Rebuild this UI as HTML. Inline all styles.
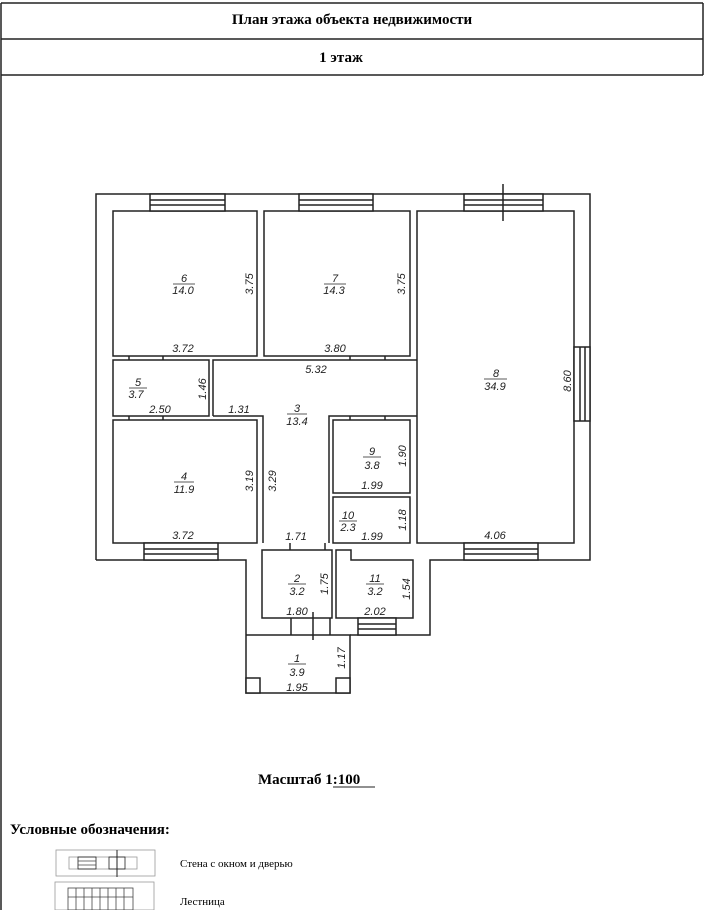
<!DOCTYPE html>
<html><head><meta charset="utf-8"><style>
html,body{margin:0;padding:0;background:#fff}
svg{display:block}
.h{font-family:"Liberation Serif","DejaVu Serif",serif;font-weight:bold;font-size:15px}
.t{font-family:"Liberation Serif",serif;font-size:11px}
.l{font-family:"Liberation Sans",sans-serif;font-style:italic;font-size:11px;fill:#222}
</style></head><body>
<svg width="704" height="910" viewBox="0 0 704 910" xmlns="http://www.w3.org/2000/svg">
<g stroke="#222" fill="none" stroke-width="1.5">
<line x1="1" y1="3" x2="703" y2="3"/>
<line x1="1" y1="39" x2="703" y2="39"/>
<line x1="1" y1="75" x2="703" y2="75"/>
<line x1="1" y1="3" x2="1" y2="910"/>
<line x1="703" y1="3" x2="703" y2="75"/>
</g>
<text x="352" y="24" text-anchor="middle" class="h">План этажа объекта недвижимости</text>
<text x="341" y="62" text-anchor="middle" class="h">1 этаж</text>

<g stroke="#222" fill="#fff" stroke-width="1.5">
<polyline fill="none" points="96,560 96,194 590,194 590,560 430,560 430,635 350,635"/>
<polyline fill="none" points="96,560 246,560 246,693 350,693 350,635 246,635"/>
<rect x="113" y="211" width="144" height="145"/>
<rect x="264" y="211" width="146" height="145"/>
<rect x="417" y="211" width="157" height="332"/>
<rect x="113" y="360" width="96" height="56"/>
<rect x="113" y="420" width="144" height="123"/>
<polyline fill="none" points="213,416 213,360 417,360"/>
<polyline fill="none" points="213,416 263,416 263,543"/>
<polyline fill="none" points="329,543 329,416 417,416"/>
<rect x="333" y="420" width="77" height="73"/>
<rect x="333" y="497" width="77" height="46"/>
<rect x="262" y="550" width="70" height="68"/>
<polygon points="336,550 351,550 351,560 413,560 413,618 336,618"/>
<rect x="246" y="678" width="14" height="15"/>
<rect x="336" y="678" width="14" height="15"/>
<rect x="150" y="194" width="75" height="17"/><line x1="150" y1="200" x2="225" y2="200"/><line x1="150" y1="205" x2="225" y2="205"/>
<rect x="299" y="194" width="74" height="17"/><line x1="299" y1="200" x2="373" y2="200"/><line x1="299" y1="205" x2="373" y2="205"/>
<rect x="464" y="194" width="79" height="17"/><line x1="464" y1="200" x2="543" y2="200"/><line x1="464" y1="205" x2="543" y2="205"/>
<line x1="503" y1="184" x2="503" y2="221"/>
<rect x="574" y="347" width="16" height="74"/><line x1="580" y1="347" x2="580" y2="421"/><line x1="585" y1="347" x2="585" y2="421"/>
<rect x="144" y="543" width="74" height="17"/><line x1="144" y1="549" x2="218" y2="549"/><line x1="144" y1="554" x2="218" y2="554"/>
<rect x="464" y="543" width="74" height="17"/><line x1="464" y1="549" x2="538" y2="549"/><line x1="464" y1="554" x2="538" y2="554"/>
<rect x="358" y="618" width="38" height="17"/><line x1="358" y1="624" x2="396" y2="624"/><line x1="358" y1="629" x2="396" y2="629"/>
<line x1="313" y1="612" x2="313" y2="640"/>
<line x1="291" y1="618" x2="291" y2="635"/>
<line x1="330" y1="618" x2="330" y2="635"/>
<line x1="290" y1="543" x2="290" y2="550"/>
<line x1="325" y1="543" x2="325" y2="550"/>
<line x1="129" y1="356" x2="129" y2="360"/><line x1="163" y1="356" x2="163" y2="360"/>
<line x1="350" y1="356" x2="350" y2="360"/><line x1="385" y1="356" x2="385" y2="360"/>
<line x1="129" y1="416" x2="129" y2="420"/><line x1="163" y1="416" x2="163" y2="420"/>
<line x1="350" y1="416" x2="350" y2="420"/><line x1="385" y1="416" x2="385" y2="420"/>
</g>

<g class="l" text-anchor="middle">
<text x="184" y="282">6</text><line x1="173" y1="284" x2="195" y2="284" stroke="#222" stroke-width="0.8"/><text x="183" y="294">14.0</text>
<text x="335" y="282">7</text><line x1="324" y1="284" x2="346" y2="284" stroke="#222" stroke-width="0.8"/><text x="334" y="294">14.3</text>
<text x="496" y="377">8</text><line x1="484" y1="379" x2="507" y2="379" stroke="#222" stroke-width="0.8"/><text x="495" y="390">34.9</text>
<text x="138" y="386">5</text><line x1="129" y1="388" x2="147" y2="388" stroke="#222" stroke-width="0.8"/><text x="136" y="398">3.7</text>
<text x="297" y="412">3</text><line x1="287" y1="414" x2="307" y2="414" stroke="#222" stroke-width="0.8"/><text x="297" y="425">13.4</text>
<text x="184" y="480">4</text><line x1="174" y1="482" x2="194" y2="482" stroke="#222" stroke-width="0.8"/><text x="184" y="493">11.9</text>
<text x="372" y="455">9</text><line x1="363" y1="457" x2="381" y2="457" stroke="#222" stroke-width="0.8"/><text x="372" y="469">3.8</text>
<text x="348" y="519">10</text><line x1="339" y1="521" x2="357" y2="521" stroke="#222" stroke-width="0.8"/><text x="348" y="531">2.3</text>
<text x="297" y="582">2</text><line x1="288" y1="584" x2="306" y2="584" stroke="#222" stroke-width="0.8"/><text x="297" y="595">3.2</text>
<text x="375" y="582">11</text><line x1="366" y1="584" x2="384" y2="584" stroke="#222" stroke-width="0.8"/><text x="375" y="595">3.2</text>
<text x="297" y="662">1</text><line x1="288" y1="664" x2="306" y2="664" stroke="#222" stroke-width="0.8"/><text x="297" y="676">3.9</text>
<text x="183" y="352">3.72</text>
<text x="335" y="352">3.80</text>
<text x="316" y="373">5.32</text>
<text x="160" y="413">2.50</text>
<text x="239" y="413">1.31</text>
<text x="183" y="539">3.72</text>
<text x="296" y="540">1.71</text>
<text x="372" y="489">1.99</text>
<text x="372" y="540">1.99</text>
<text x="495" y="539">4.06</text>
<text x="297" y="615">1.80</text>
<text x="375" y="615">2.02</text>
<text x="297" y="691">1.95</text>
</g>
<g class="l" text-anchor="middle">
<text transform="translate(253,284) rotate(-90)">3.75</text>
<text transform="translate(405,284) rotate(-90)">3.75</text>
<text transform="translate(571,381) rotate(-90)">8.60</text>
<text transform="translate(206,389) rotate(-90)">1.46</text>
<text transform="translate(253,481) rotate(-90)">3.19</text>
<text transform="translate(276,481) rotate(-90)">3.29</text>
<text transform="translate(406,456) rotate(-90)">1.90</text>
<text transform="translate(406,520) rotate(-90)">1.18</text>
<text transform="translate(328,584) rotate(-90)">1.75</text>
<text transform="translate(410,589) rotate(-90)">1.54</text>
<text transform="translate(345,658) rotate(-90)">1.17</text>
</g>

<text x="258" y="784" class="h">Масштаб 1:100</text>
<line x1="333" y1="787" x2="375" y2="787" stroke="#222" stroke-width="1"/>
<text x="10" y="834" class="h">Условные обозначения:</text>
<g stroke="#444" fill="none" stroke-width="0.8">
<rect x="56" y="850" width="99" height="26" stroke="#999"/>
<rect x="69" y="857" width="68" height="12" stroke="#999"/>
<rect x="78" y="857" width="18" height="12" stroke="#222"/>
<line x1="78" y1="861" x2="96" y2="861"/><line x1="78" y1="865" x2="96" y2="865"/>
<rect x="109" y="857" width="16" height="12" stroke="#222"/>
<line x1="117" y1="850" x2="117" y2="877" stroke="#222" stroke-width="1"/>
<rect x="55" y="882" width="99" height="28" stroke="#999"/>
<rect x="68" y="888" width="65" height="22"/>
<line x1="76" y1="888" x2="76" y2="910"/><line x1="84" y1="888" x2="84" y2="910"/><line x1="92" y1="888" x2="92" y2="910"/><line x1="100" y1="888" x2="100" y2="910"/><line x1="108" y1="888" x2="108" y2="910"/><line x1="116" y1="888" x2="116" y2="910"/><line x1="124" y1="888" x2="124" y2="910"/>
<line x1="68" y1="897" x2="133" y2="897"/>
</g>
<text x="180" y="867" class="t">Стена с окном и дверью</text>
<text x="180" y="905" class="t">Лестница</text>
</svg>
</body></html>
